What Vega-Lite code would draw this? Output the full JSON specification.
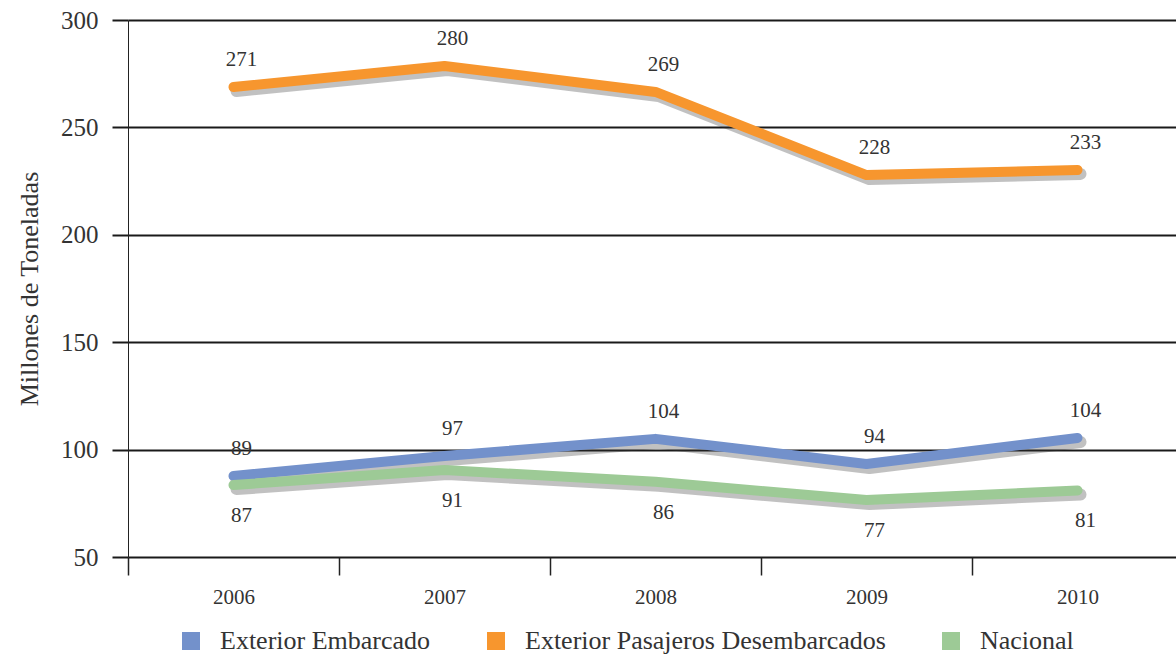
{
  "$schema": "https://vega.github.io/schema/vega-lite/v6.json",
  "width": 1048,
  "height": 537,
  "autosize": {"type": "none"},
  "padding": {"left": 128, "top": 20, "right": 0, "bottom": 99},
  "background": "white",
  "config": {
    "font": "'Liberation Serif', serif",
    "view": {"stroke": null},
    "axis": {"labelFont": "'Liberation Serif', serif", "titleFont": "'Liberation Serif', serif"},
    "legend": {"labelFont": "'Liberation Serif', serif"},
    "text": {"font": "'Liberation Serif', serif"}
  },
  "data": {
    "values": [
      {"year": "2006", "series": "Exterior Embarcado", "value": 87.7, "label": 89},
      {"year": "2007", "series": "Exterior Embarcado", "value": 97.0, "label": 97},
      {"year": "2008", "series": "Exterior Embarcado", "value": 105.0, "label": 104},
      {"year": "2009", "series": "Exterior Embarcado", "value": 93.3, "label": 94},
      {"year": "2010", "series": "Exterior Embarcado", "value": 105.4, "label": 104},
      {"year": "2006", "series": "Exterior Pasajeros Desembarcados", "value": 268.8, "label": 271},
      {"year": "2007", "series": "Exterior Pasajeros Desembarcados", "value": 278.6, "label": 280},
      {"year": "2008", "series": "Exterior Pasajeros Desembarcados", "value": 266.5, "label": 269},
      {"year": "2009", "series": "Exterior Pasajeros Desembarcados", "value": 227.8, "label": 228},
      {"year": "2010", "series": "Exterior Pasajeros Desembarcados", "value": 230.2, "label": 233},
      {"year": "2006", "series": "Nacional", "value": 83.5, "label": 87},
      {"year": "2007", "series": "Nacional", "value": 90.5, "label": 91},
      {"year": "2008", "series": "Nacional", "value": 85.0, "label": 86},
      {"year": "2009", "series": "Nacional", "value": 76.5, "label": 77},
      {"year": "2010", "series": "Nacional", "value": 81.0, "label": 81}
    ]
  },
  "encoding": {
    "x": {
      "field": "year",
      "type": "ordinal",
      "scale": {"type": "band", "range": [0, 1055], "paddingInner": 0, "paddingOuter": 0},
      "axis": {
        "title": null,
        "domain": false,
        "grid": false,
        "tickBand": "extent",
        "tickSize": 18,
        "tickColor": "#222222",
        "tickWidth": 1.5,
        "labelAngle": 0,
        "labelFont": "'Liberation Serif', serif",
        "labelFontSize": 21,
        "labelColor": "#333333",
        "labelPadding": 11
      }
    },
    "y": {
      "field": "value",
      "type": "quantitative",
      "scale": {"domain": [50, 300], "nice": false, "zero": false},
      "axis": {
        "values": [50, 100, 150, 200, 250, 300],
        "title": "Millones de Toneladas",
        "titleFont": "'Liberation Serif', serif",
        "titleFontSize": 26,
        "titleFontWeight": "normal",
        "titleColor": "#333333",
        "titlePadding": 18,
        "grid": true,
        "gridColor": "#1a1a1a",
        "gridWidth": 2,
        "gridOpacity": 1,
        "domain": true,
        "domainColor": "#222222",
        "domainWidth": 1,
        "tickSize": 16,
        "tickWidth": 2,
        "tickColor": "#1a1a1a",
        "labelFont": "'Liberation Serif', serif",
        "labelFontSize": 25,
        "labelColor": "#333333",
        "labelPadding": 14
      }
    }
  },
  "layer": [
    {
      "mark": {"type": "line", "color": "#333333", "opacity": 0.3, "strokeWidth": 12, "strokeCap": "round", "strokeJoin": "round", "xOffset": 3, "yOffset": 4},
      "encoding": {"detail": {"field": "series"}}
    },
    {
      "mark": {"type": "line", "strokeWidth": 10, "strokeCap": "round", "strokeJoin": "round"},
      "encoding": {
        "color": {
          "field": "series",
          "type": "nominal",
          "scale": {
            "domain": ["Exterior Embarcado", "Exterior Pasajeros Desembarcados", "Nacional"],
            "range": ["#7391CB", "#F7962E", "#9DCA96"]
          },
          "legend": {
            "orient": "none",
            "legendX": 50,
            "legendY": 608,
            "direction": "horizontal",
            "title": null,
            "symbolType": "square",
            "symbolSize": 324,
            "symbolStrokeWidth": 0,
            "labelFont": "'Liberation Serif', serif",
            "labelFontSize": 26,
            "labelLimit": 0,
            "labelColor": "#333333",
            "labelOffset": 16,
            "columnPadding": 52,
            "encode": {
              "symbols": {
                "update": {
                  "fill": {"scale": "color", "field": "value"},
                  "strokeWidth": {"value": 0},
                  "opacity": {"value": 1}
                }
              }
            }
          }
        }
      }
    },
    {
      "transform": [{"filter": "datum.series !== 'Nacional'"}],
      "mark": {"type": "text", "font": "'Liberation Serif', serif", "dx": 8, "dy": -27, "fontSize": 21, "color": "#333333", "baseline": "middle"},
      "encoding": {"text": {"field": "label", "type": "quantitative"}}
    },
    {
      "transform": [{"filter": "datum.series === 'Nacional'"}],
      "mark": {"type": "text", "font": "'Liberation Serif', serif", "dx": 8, "dy": 31, "fontSize": 21, "color": "#333333", "baseline": "middle"},
      "encoding": {"text": {"field": "label", "type": "quantitative"}}
    }
  ]
}
